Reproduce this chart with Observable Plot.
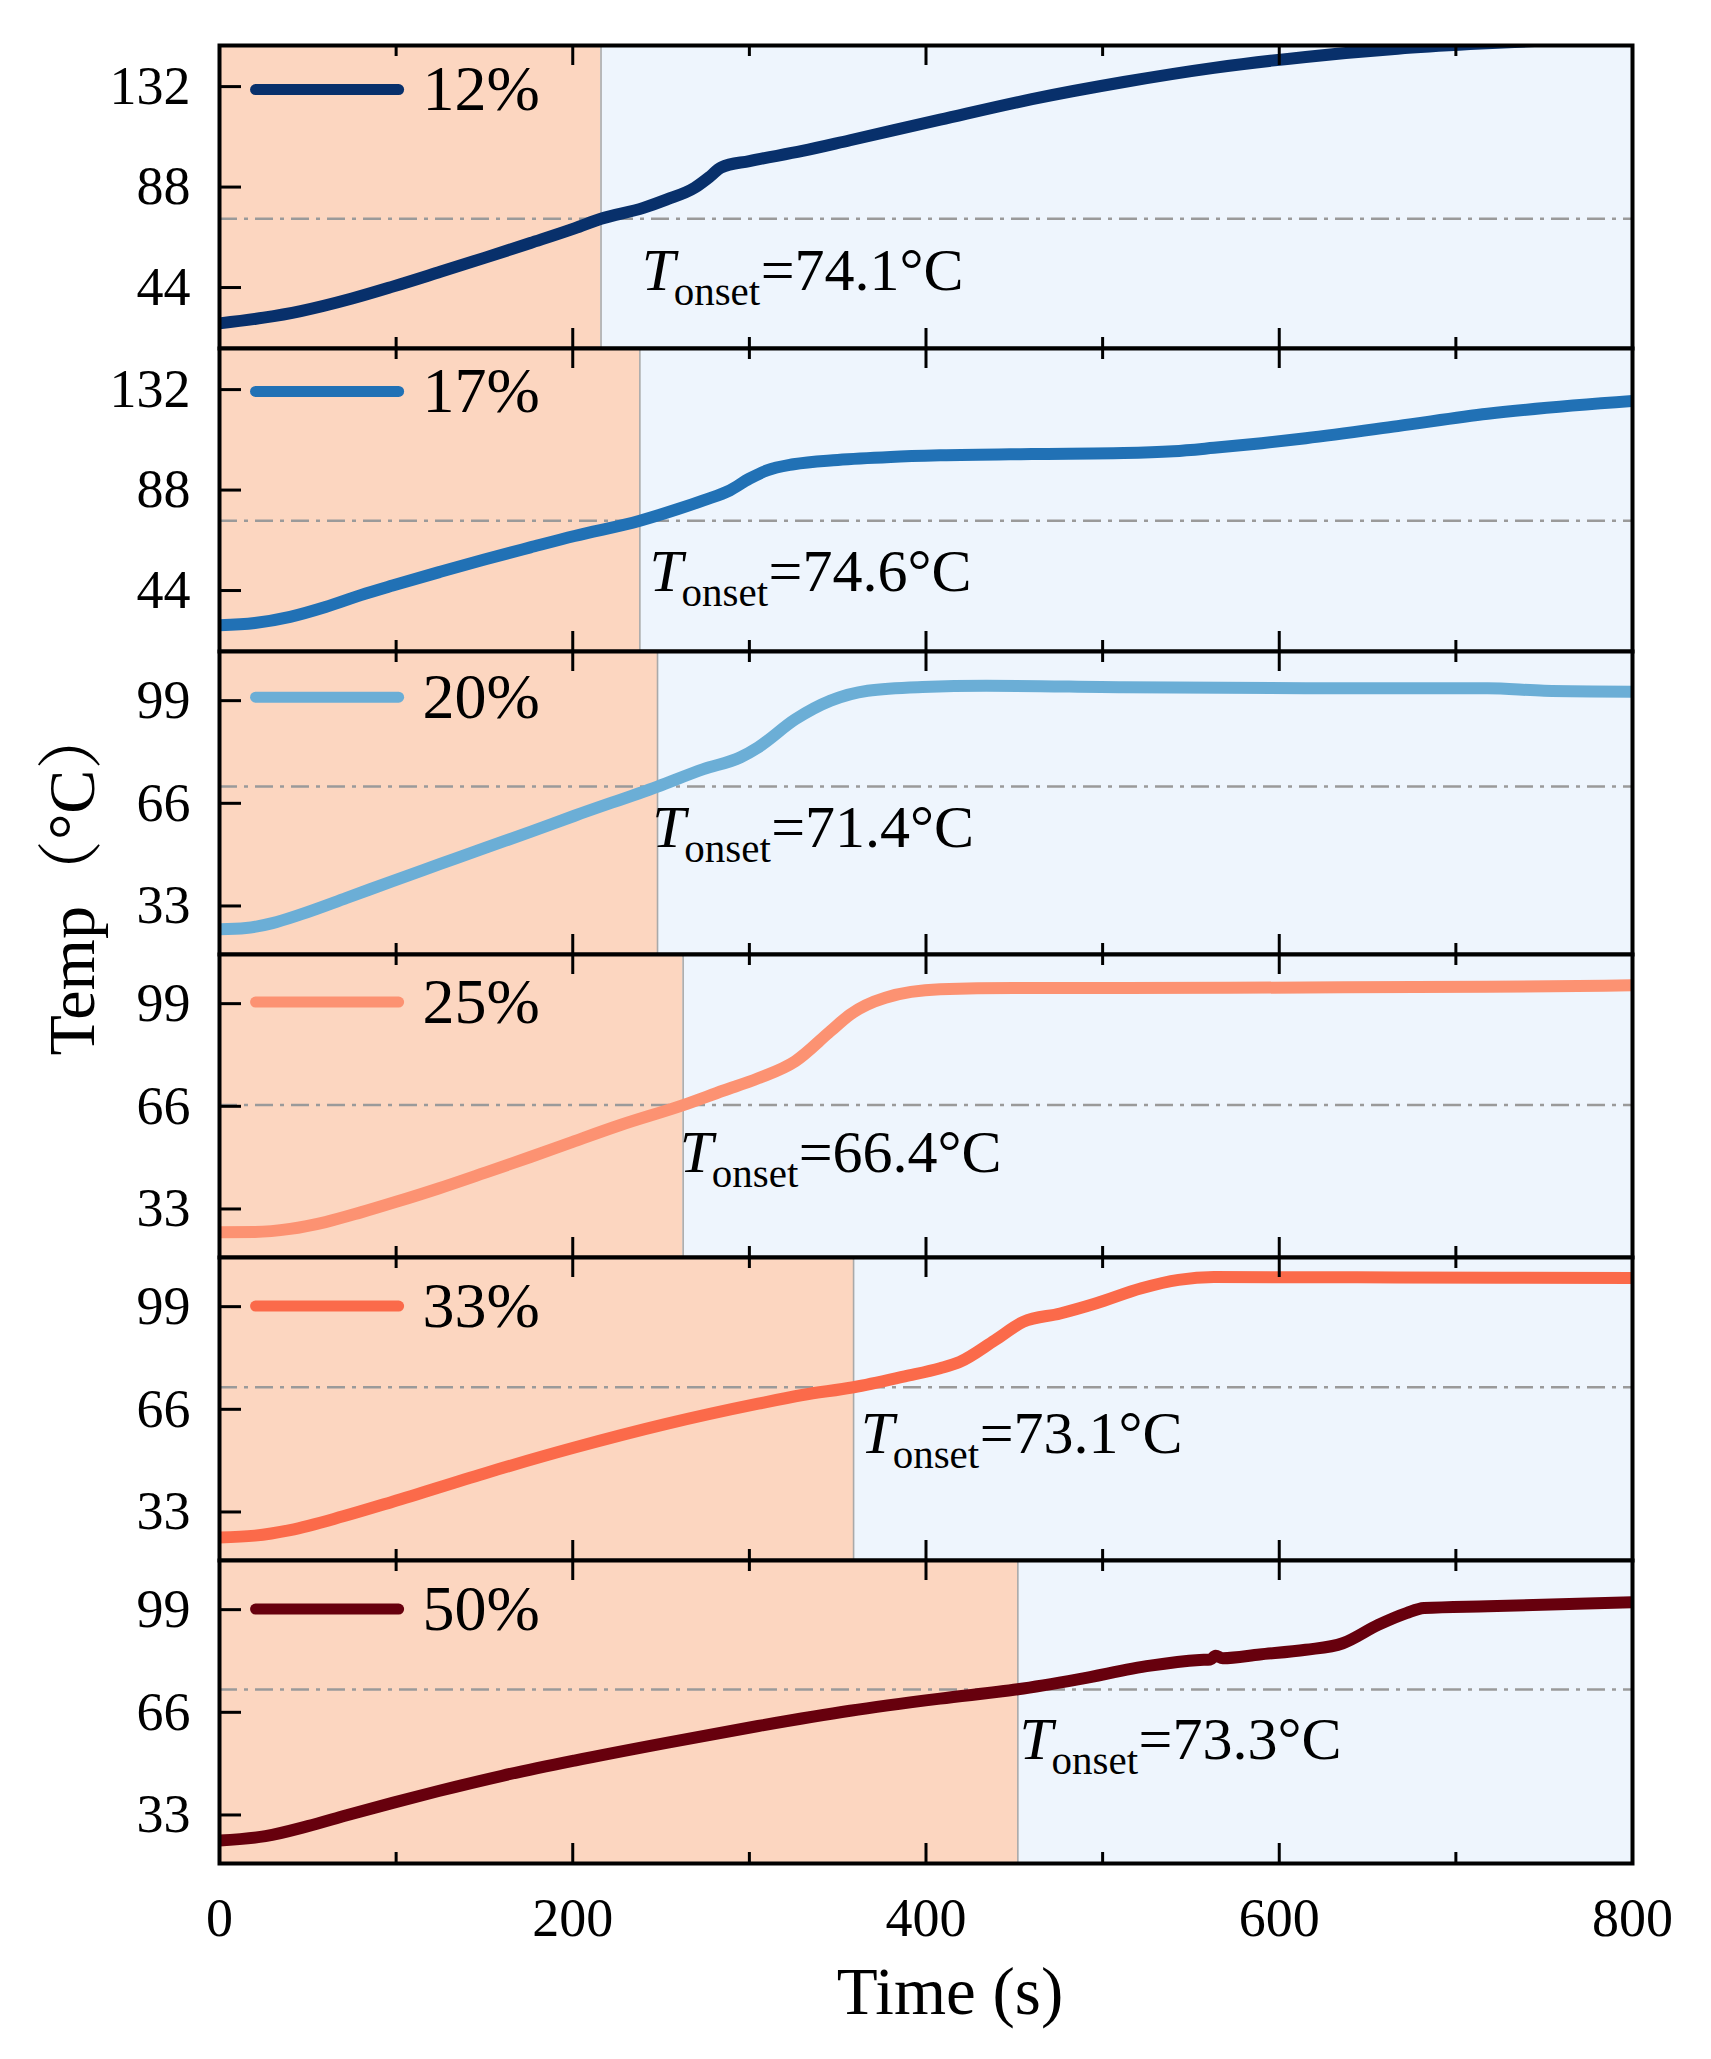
<!DOCTYPE html>
<html>
<head>
<meta charset="utf-8">
<script src="https://cdn.jsdelivr.net/npm/d3@7"></script>
<script src="https://cdn.jsdelivr.net/npm/@observablehq/plot@0.6"></script>
<style>
html, body { margin: 0; padding: 0; background: #ffffff; }
#chart { width: 1711px; position: relative; }
#chart svg { display: block; overflow: visible; }
#chart svg + svg { margin-top: -6px; }
</style>
</head>
<body>
<div id="chart"></div>
<script>
// ---- data ----
const labels = ["12%", "17%", "20%", "25%", "33%", "50%"];
const colors = ["#08306B", "#2171B5", "#6BAED6", "#FC9272", "#FB6A4A", "#67000D"];
const onsetTemp = [74.1, 74.6, 71.4, 66.4, 73.1, 73.3];
const onsetTime = [216, 238, 248, 262.5, 359, 452];
const yTicksHigh = [44, 88, 132];
const yTicksLow = [33, 66, 99];
const xTicksMajor = [0, 200, 400, 600, 800];
const xTicksMinor = [100, 300, 500, 700];

const time12 = [0, 25, 46, 75, 98, 125, 150, 176, 201, 216, 240, 253, 269, 278, 284, 300, 330, 357, 408, 460, 512, 563, 615, 667, 708, 760, 800];
const temp12 = [28.3, 30.8, 33.7, 39.2, 44.4, 50.9, 57, 63.5, 69.9, 74.1, 78.9, 82.5, 87.7, 92.8, 96.6, 99.4, 103.8, 108.5, 117.5, 126.5, 134, 140.2, 145, 148.6, 150.6, 152.5, 154];

const time17 = [0, 20, 40, 60, 80, 98, 125, 150, 176, 201, 238, 260, 274, 289, 300, 310, 325, 350, 380, 408, 460, 512, 540, 563, 590, 615, 667, 718, 800];
const temp17 = [28.8, 29.8, 32.5, 36.8, 42, 46.2, 52.2, 57.6, 62.9, 67.9, 74.6, 79.8, 83.5, 87.9, 93, 96.6, 99.3, 101.2, 102.5, 103.2, 103.8, 104.2, 105, 106.5, 108.5, 110.7, 116, 121.4, 127];

const time20 = [0, 15, 30, 46, 72, 98, 125, 150, 176, 201, 248, 274, 295, 305, 326, 346, 367, 398, 434, 512, 615, 718, 750, 800];
const temp20 = [25.5, 25.9, 27.5, 30.3, 35.6, 41, 46.5, 51.6, 56.8, 62, 71.4, 77, 80.8, 84, 93, 99, 102.2, 103.4, 103.8, 103.3, 103, 103, 102.2, 101.9];

const time25 = [0, 20, 40, 60, 80, 100, 124, 150, 176, 200, 227, 262.5, 285, 305, 326, 346, 357, 377, 408, 450, 512, 615, 718, 800];
const temp25 = [25.5, 25.6, 26.6, 28.8, 31.9, 35.3, 39.6, 44.6, 49.7, 54.6, 60, 66.4, 71, 75, 80.5, 90.2, 95.5, 100.9, 103.6, 104, 104, 104.2, 104.4, 104.9];

const time33 = [0, 20, 40, 70, 98, 150, 201, 253, 305, 330, 359, 388, 408, 419, 439, 455, 476, 496, 522, 543, 563, 667, 800];
const temp33 = [24.8, 25.4, 27.2, 31.6, 36.3, 45.4, 53.7, 61.3, 67.8, 70.6, 73.1, 76.6, 79.2, 81.2, 88.2, 94.1, 96.8, 100, 104.9, 107.6, 108.5, 108.4, 108.2];

const time50 = [0, 26, 50, 72, 98, 124, 160, 201, 253, 305, 357, 408, 452, 486, 527, 555, 561, 564, 568, 589, 615, 636, 656, 672, 682, 718, 800];
const temp50 = [24.8, 26.2, 29.4, 32.9, 36.9, 40.7, 45.6, 50.5, 56.2, 61.6, 66.5, 70.4, 73.4, 76.6, 81, 82.8, 83, 84.2, 83.4, 84.6, 86.1, 88.2, 94.1, 97.9, 99.5, 100.1, 101.4];

const seriesTimes = [time12, time17, time20, time25, time33, time50];
const seriesTemps = [temp12, temp17, temp20, temp25, temp33, temp50];

// ---- layout (label placement, not data) ----
const domainHigh = [17.3, 150];
const domainLow = [17.4, 114.8];
const legendY = [130.7, 131.2, 100.1, 99.5, 99.2, 99.2];
const annotX = [239, 243.5, 245, 260.6, 363, 453];
const annotY = [43, 43.6, 51.8, 44.9, 51.8, 51];

const W = 1711, ML = 219, MR = 79, IH = 303;
const IW = W - ML - MR;
const serif = "'Liberation Serif', 'Times New Roman', 'Noto Serif CJK SC', 'Noto Sans CJK SC', serif";

function panel(i) {
  const first = i === 0, last = i === 5;
  const mt = first ? 45 : 3, mb = last ? 196 : 3;
  const data = seriesTimes[i].map((t, j) => ({t, v: seriesTemps[i][j]}));
  const yTicks = i < 2 ? yTicksHigh : yTicksLow;
  const marks = [
    Plot.rect([{a: 0, b: onsetTime[i]}], {x1: "a", x2: "b", fill: "#FCD6C0"}),
    Plot.rect([{a: onsetTime[i], b: 800}], {x1: "a", x2: "b", fill: "#EEF5FD"}),
    Plot.ruleX([onsetTime[i]], {stroke: "#A9A9A9", strokeWidth: 1.6}),
    Plot.ruleY([onsetTemp[i]], {stroke: "#9A9A9A", strokeWidth: 2.5, strokeDasharray: "18,7,4,7"}),
    Plot.line(data, {x: "t", y: "v", stroke: colors[i], strokeWidth: 12, curve: "monotone-x", clip: true}),
    // inward ticks
    Plot.tickX(xTicksMajor, {x: d => d, insetTop: IH - 20, stroke: "#000", strokeWidth: 3}),
    Plot.tickX(xTicksMajor, {x: d => d, insetBottom: IH - 20, stroke: "#000", strokeWidth: 3}),
    Plot.tickX(xTicksMinor, {x: d => d, insetTop: IH - 11, stroke: "#000", strokeWidth: 3}),
    Plot.tickX(xTicksMinor, {x: d => d, insetBottom: IH - 11, stroke: "#000", strokeWidth: 3}),
    Plot.tickY(yTicks, {y: d => d, insetRight: IW - 22, stroke: "#000", strokeWidth: 3}),
    Plot.axisY(yTicks, {tickSize: 0, tickPadding: 29, fontSize: 54, label: null, fill: "#000"}),
    // legend
    Plot.ruleY([legendY[i]], {x1: 20.7, x2: 101.7, stroke: colors[i], strokeWidth: 11, strokeLinecap: "round"}),
    Plot.text([labels[i]], {x: 115, y: legendY[i], text: d => d, textAnchor: "start", fontSize: 64, fill: "#000"}),
    // onset annotation
    Plot.text(["T"], {x: annotX[i], y: annotY[i], text: d => d, textAnchor: "start", lineAnchor: "bottom", fontSize: 60, fontStyle: "italic", fill: "#000"}),
    Plot.text(["onset"], {x: annotX[i], y: annotY[i], text: d => d, dx: 32, dy: 15, textAnchor: "start", lineAnchor: "bottom", fontSize: 41, fill: "#000"}),
    Plot.text([`=${onsetTemp[i]}°C`], {x: annotX[i], y: annotY[i], text: d => d, dx: 119, textAnchor: "start", lineAnchor: "bottom", fontSize: 60, fill: "#000"}),
    Plot.frame({stroke: "#000", strokeWidth: 4})
  ];
  if (i === 2) {
    // y-axis title, placed in this panel's coordinates (left of the frame)
    marks.push(Plot.text(["Temp（°C）"], {x: -83.2, y: 41.5, rotate: -90, text: d => d, fontSize: 66, fill: "#000"}));
  }
  if (last) {
    marks.push(Plot.axisX(xTicksMajor, {anchor: "bottom", tickSize: 0, tickPadding: 34, fontSize: 54, label: null, fill: "#000"}));
    marks.push(Plot.text(["Time (s)"], {frameAnchor: "bottom", dx: 24, dy: 150, lineAnchor: "bottom", text: d => d, fontSize: 67, fill: "#000"}));
  }
  return Plot.plot({
    width: W,
    height: IH + mt + mb,
    marginLeft: ML, marginRight: MR, marginTop: mt, marginBottom: mb,
    x: {domain: [0, 800], axis: null},
    y: {domain: i < 2 ? domainHigh : domainLow, axis: null},
    style: {fontFamily: serif, background: "transparent", overflow: "visible", color: "#000"},
    marks
  });
}

const chart = document.getElementById("chart");
for (let i = 0; i < 6; i++) chart.appendChild(panel(i));
</script>
</body>
</html>
